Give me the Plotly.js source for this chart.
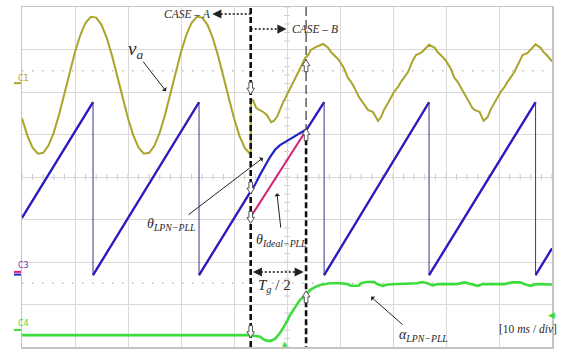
<!DOCTYPE html>
<html><head><meta charset="utf-8">
<script src="https://cdn.plot.ly/plotly-3.0.1.min.js"></script>
<style>html,body{margin:0;padding:0;background:#fff}#chart{width:562px;height:351px}</style>
</head><body><div id="chart"></div>
<script>
// time in ms (10 ms/div), amplitude in screen divisions
const vaTime = [0,1,2,3,4,5,6,7,8,9,10,11,12,13,14,15,16,17,18,19,
  20,21,22,23,24,25,26,27,28,29,30,31,32,33,34,35,36,37,38,39,
  40,41,42,43,43.15,43.2,43.6,44.2,44.9,45.5,46.2,47.0,47.5,48.1,49.2,50.2,51.3,52.5,53.4,54.0,54.5,55.5,
  56.8,57.74,58.3,58.87,59.81,60.75,61.51,62.08,62.64,63.58,64.34,64.91,65.28,66.23,67.17,67.74,68.3,69.06,69.62,70.19,70.94,71.51,72.83,73.77,74.34,75.28,75.85,
  76.79,77.9,78.4,79.0,79.9,80.85,81.6,82.2,82.75,83.7,84.45,85.0,85.4,86.35,87.1,87.85,88.4,89.15,89.7,90.3,91.05,91.6,92.9,93.9,94.45,95.4,95.95,
  96.9,97.85,98.4,99.0,100];
const vaValue = [1.38,0.98,0.69,0.55,0.57,0.74,1.05,1.47,1.96,2.46,2.94,3.34,3.63,3.77,3.75,3.58,3.27,2.85,2.36,1.86,
  1.38,0.98,0.69,0.55,0.57,0.74,1.05,1.47,1.96,2.46,2.94,3.34,3.63,3.77,3.75,3.58,3.27,2.85,2.36,1.86,
  1.38,0.98,0.69,0.55,0.56,1.81,1.80,1.62,1.58,1.53,1.46,1.29,1.32,1.41,1.74,1.98,2.28,2.56,2.80,2.87,2.99,3.06,
  3.13,3.04,2.94,2.87,2.75,2.56,2.33,2.24,2.12,1.88,1.74,1.62,1.58,1.53,1.32,1.41,1.58,1.74,1.88,2.00,2.12,2.24,2.47,2.75,2.87,2.92,2.99,
  3.11,3.04,2.94,2.87,2.75,2.56,2.33,2.24,2.12,1.88,1.74,1.62,1.58,1.53,1.32,1.41,1.58,1.74,1.88,2.00,2.12,2.24,2.47,2.75,2.87,2.92,2.99,
  3.12,3.04,2.94,2.87,2.72];

const thetaPllTime  = [0,13.4,13.4,33.4,33.4,43.15,44.0,44.9,45.85,46.79,47.74,48.68,49.62,50.94,51.89,52.83,53.77,57.0,57.0,76.8,76.8,96.9,96.9,100];
const thetaPllValue = [-0.96,1.76,-2.31,1.76,-2.31,-0.33,-0.17,0.05,0.28,0.47,0.64,0.75,0.82,0.92,0.99,1.06,1.13,1.76,-2.31,1.76,-2.31,1.76,-2.31,-1.68];

const thetaIdealTime  = [0,13.4,13.4,33.4,33.4,43.15,43.15,57.0,57.0,76.8,76.8,96.9,96.9,100];
const thetaIdealValue = [-0.96,1.76,-2.31,1.76,-2.31,-0.33,-0.94,1.76,-2.31,1.76,-2.31,1.76,-2.31,-1.68];

const alphaTime  = [0,43.02,44.91,45.85,46.79,47.74,48.68,49.62,50.57,51.51,52.45,53.40,54.34,55.28,56.23,58.11,
  60.0,61.5,62.0,63.5,64.0,65.0,66.5,67.0,68.0,69.0,72.0,74.5,75.5,76.5,77.5,78.5,82.0,83.5,85.0,86.0,87.0,91.0,92.5,94.0,95.0,96.0,97.0,100];
const alphaValue = [-3.72,-3.72,-3.76,-3.84,-3.86,-3.81,-3.67,-3.48,-3.25,-3.06,-2.89,-2.80,-2.66,-2.59,-2.54,-2.50,
  -2.50,-2.52,-2.56,-2.56,-2.50,-2.47,-2.47,-2.52,-2.56,-2.53,-2.52,-2.50,-2.47,-2.50,-2.55,-2.52,-2.52,-2.48,-2.53,-2.56,-2.52,-2.52,-2.48,-2.48,-2.53,-2.56,-2.52,-2.53];

const eventTimes = [43.15, 53.6];   // CASE-A start, CASE-B start

// split sawtooth into ramps (thick) and vertical resets (thin)
function splitRamps(t, v) {
  const rx = [], ry = [], dx = [], dy = [];
  for (let i = 0; i < t.length; i++) {
    if (i > 0 && t[i] === t[i-1]) {
      rx.push(null); ry.push(null);
      dx.push(t[i-1], t[i], null); dy.push(v[i-1], v[i], null);
    }
    rx.push(t[i]); ry.push(v[i]);
  }
  return {rx, ry, dx, dy};
}
const pll = splitRamps(thetaPllTime, thetaPllValue);
const ideal = splitRamps(thetaIdealTime, thetaIdealValue);

const traces = [
  {x: vaTime, y: vaValue, mode: 'lines', line: {color: '#a9a42b', width: 2}},
  {x: ideal.rx, y: ideal.ry, mode: 'lines', line: {color: '#d3216f', width: 2}, connectgaps: false},
  {x: pll.rx, y: pll.ry, mode: 'lines', line: {color: '#2121c9', width: 2.2}, connectgaps: false},
  {x: pll.dx, y: pll.dy, mode: 'lines', line: {color: '#3e3585', width: 1}, connectgaps: false},
  {x: alphaTime, y: alphaValue, mode: 'lines', line: {color: '#3ddc3d', width: 2.6}}
];

const shapes = [];
// graticule center ticks
for (let t = 0; t <= 100; t += 2) {
  shapes.push({type: 'line', layer: 'below', xref: 'x', yref: 'y', x0: t, x1: t, y0: -0.07, y1: 0.07, line: {color: '#c8c8c8', width: 1}});
}
for (let k = -20; k <= 20; k++) {
  const v = k * 0.2;
  shapes.push({type: 'line', layer: 'below', xref: 'x', yref: 'y', x0: 49.5, x1: 50.5, y0: v, y1: v, line: {color: '#c8c8c8', width: 1}});
}
// dotted reference lines
[2.5, -2.5].forEach(v => shapes.push({type: 'line', layer: 'below', xref: 'paper', yref: 'y', x0: 0, x1: 1, y0: v, y1: v,
  line: {color: '#bdbdbd', width: 1.5, dash: '1.5px,8.5px'}}));
// event cursors
shapes.push({type: 'line', xref: 'x', yref: 'paper', x0: eventTimes[0], x1: eventTimes[0], y0: 0, y1: 1, line: {color: '#111', width: 2.6, dash: '6px,3px'}});
shapes.push({type: 'line', xref: 'x', yref: 'y', x0: eventTimes[1], x1: eventTimes[1], y0: 4, y1: 1.1, line: {color: '#222', width: 1.1, dash: '9px,4px'}});
shapes.push({type: 'line', xref: 'x', yref: 'y', x0: eventTimes[1], x1: eventTimes[1], y0: 1.1, y1: -4, line: {color: '#111', width: 2.6, dash: '6px,3px'}});
// dotted arrows
const dotLine = {color: '#111', width: 1.5, dash: '2px,2px'};
shapes.push({type: 'line', xref: 'x', yref: 'y', x0: eventTimes[0], x1: 36.6, y0: 3.835, y1: 3.835, line: dotLine});
shapes.push({type: 'line', xref: 'x', yref: 'y', x0: eventTimes[0], x1: 48.9, y0: 3.48, y1: 3.48, line: dotLine});
shapes.push({type: 'line', xref: 'x', yref: 'y', x0: 44.3, x1: 52.4, y0: -2.235, y1: -2.235, line: dotLine});
// hollow cursor arrows (pixel-sized block arrows)
const downArrow = 'M-1.8,6 L1.8,6 L1.8,0 L3.8,0 L0,-6 L-3.8,0 L-1.8,0 Z';
const upArrow = 'M-1.8,-6 L1.8,-6 L1.8,0 L3.8,0 L0,6 L-3.8,0 L-1.8,0 Z';
function cursorShape(t, v, path) {
  return {type: 'path', xref: 'x', yref: 'y', xsizemode: 'pixel', ysizemode: 'pixel', xanchor: t, yanchor: v,
    path, fillcolor: '#ffffff', line: {color: '#555555', width: 1}};
}
[[eventTimes[0], 2.09, downArrow], [eventTimes[0], -0.26, downArrow], [eventTimes[0], -0.95, downArrow], [eventTimes[0], -3.64, downArrow],
 [eventTimes[1], 2.62, upArrow], [eventTimes[1], 1.0, upArrow], [eventTimes[1], -2.82, upArrow]]
  .forEach(c => shapes.push(cursorShape(c[0], c[1], c[2])));
// channel markers on the left
shapes.push({type: 'line', xref: 'paper', yref: 'paper', x0: -0.0151, x1: -0.002, y0: 0.776, y1: 0.776, line: {color: '#a9a42b', width: 2}});
shapes.push({type: 'line', xref: 'paper', yref: 'paper', x0: -0.0151, x1: -0.002, y0: 0.213, y1: 0.213, line: {color: '#2121c9', width: 2}});
shapes.push({type: 'line', xref: 'paper', yref: 'paper', x0: -0.0151, x1: -0.002, y0: 0.221, y1: 0.221, line: {color: '#d3216f', width: 2}});
shapes.push({type: 'line', xref: 'paper', yref: 'paper', x0: -0.0151, x1: -0.002, y0: 0.05, y1: 0.05, line: {color: '#3ddc3d', width: 2}});

const serif = 'Liberation Serif, Times New Roman, serif';
const txt = (x, y, text, size, extra) => Object.assign({x, y, xref: 'x', yref: 'y', text, showarrow: false,
  font: {family: serif, size, color: '#2a2a2a'}}, extra || {});
const arr = (x, y, ax, ay, extra) => Object.assign({x, y, xref: 'x', yref: 'y', ax, ay, text: '', showarrow: true,
  arrowhead: 1, arrowsize: 1, arrowwidth: 1, arrowcolor: '#222'}, extra || {});

const annotations = [
  txt(31.2, 3.835, '<i>CASE – A</i>', 11.5),
  txt(50.6, 3.48, '<i>CASE – B</i>', 11.5, {xanchor: 'left'}),
  arr(35.9, 3.835, 7, 0, {arrowsize: 1.4, arrowwidth: 1.3, arrowhead: 2}),
  arr(49.9, 3.48, -7, 0, {arrowsize: 1.4, arrowwidth: 1.3, arrowhead: 2}),
  arr(43.55, -2.235, 6, 0, {arrowsize: 1.4, arrowwidth: 1.3, arrowhead: 2}),
  arr(53.15, -2.235, -6, 0, {arrowsize: 1.4, arrowwidth: 1.3, arrowhead: 2}),
  txt(21.4, 2.98, '<i>v</i><sub><i>a</i></sub>', 19),
  arr(27.17, 2.02, -24, -31),
  txt(28.1, -1.12, '<i>θ</i><sub><i>LPN−PLL</i></sub>', 14),
  arr(45.47, 0.45, -76, 58),
  txt(49.0, -1.5, '<i>θ</i><sub><i>Ideal−PLL</i></sub>', 14),
  arr(48.1, -0.38, 4, 36),
  txt(47.6, -2.56, '<i>T</i><sub><i>g</i></sub> / 2', 15),
  txt(75.7, -3.72, '<i>α</i><sub><i>LPN−PLL</i></sub>', 14),
  arr(65.85, -2.82, 33, 29),
  txt(95.4, -3.58, '[10 <i>ms</i> / <i>div</i>]', 11.5),
  {x: -0.011, y: 0.808, xref: 'paper', yref: 'paper', text: 'C1', showarrow: false, font: {family: 'DejaVu Sans', size: 8, color: '#a9a42b'}},
  {x: -0.011, y: 0.222, xref: 'paper', yref: 'paper', text: 'C3', showarrow: false, font: {family: 'DejaVu Sans', size: 8, color: '#6a3aa8'}},
  {x: -0.011, y: 0.049, xref: 'paper', yref: 'paper', text: 'C4', showarrow: false, font: {family: 'DejaVu Sans', size: 8, color: '#3ddc3d'}},
  {x: 1.009, y: 0.0735, xref: 'paper', yref: 'paper', text: '◀', showarrow: false, font: {family: 'DejaVu Sans', size: 9, color: '#3ddc3d'}},
  {x: 49.6, y: -0.008, xref: 'x', yref: 'paper', text: '▲', showarrow: false, font: {family: 'DejaVu Sans', size: 7, color: '#3ddc3d'}}
];

const axisCommon = {showgrid: true, gridcolor: '#d9d9d9', gridwidth: 1, zeroline: false, showticklabels: false,
  ticks: '', showline: true, mirror: true, linecolor: '#c4c4c4', linewidth: 1.5, fixedrange: true};

const layout = {
  width: 562, height: 351,
  margin: {l: 22, r: 10, t: 7, b: 4, pad: 0},
  paper_bgcolor: '#ffffff', plot_bgcolor: '#ffffff',
  showlegend: false,
  xaxis: Object.assign({range: [0, 100], dtick: 10, tick0: 0}, axisCommon),
  yaxis: Object.assign({range: [-4, 4], dtick: 1, tick0: 0}, axisCommon),
  shapes, annotations
};

Plotly.newPlot('chart', traces, layout, {staticPlot: true, displayModeBar: false});
</script></body></html>
